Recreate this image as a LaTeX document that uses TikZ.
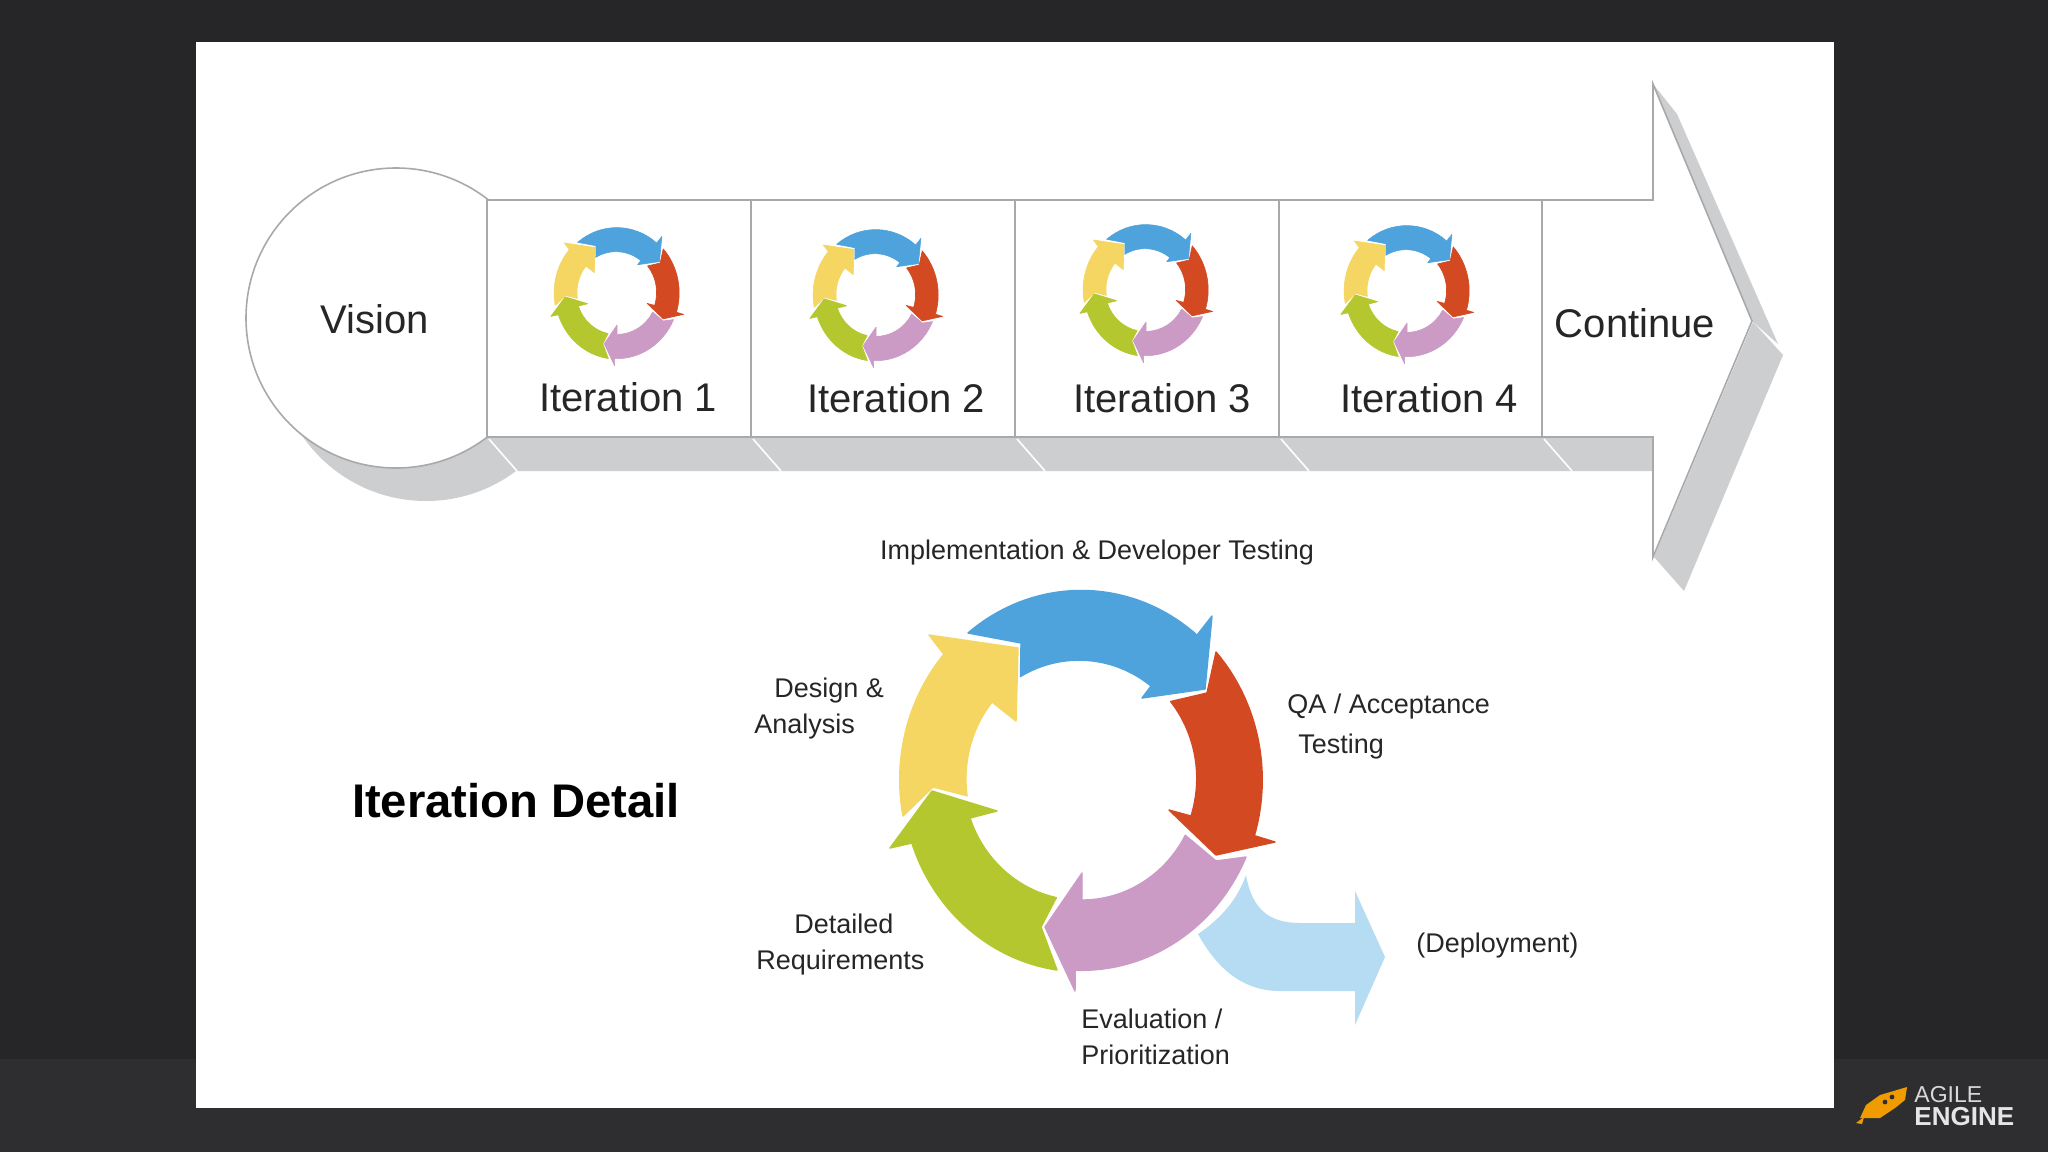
\documentclass[tikz,border=0pt]{standalone}
\usepackage{fontspec}
\setmainfont{Liberation Sans}
\usepackage{xcolor}
\usepackage{tikz}
\usetikzlibrary{positioning}
\definecolor{slide}{HTML}{262628}
\definecolor{band}{HTML}{2E2E30}
\definecolor{edge}{HTML}{A9A9AB}
\definecolor{dropgray}{HTML}{CDCED0}
\definecolor{planblue}{HTML}{4FA3DC}
\definecolor{planred}{HTML}{D34A22}
\definecolor{planpurple}{HTML}{CB9AC5}
\definecolor{plangreen}{HTML}{B5C72F}
\definecolor{planyellow}{HTML}{F5D663}
\definecolor{planlight}{HTML}{B5DCF3}
\definecolor{rocket}{HTML}{F09C00}
\newcommand{\cyclearrows}{%
  \fill[seg, planblue] (968,633) arc[start angle=129, end angle=50, outer] -- (1212,616) -- (1205,689) -- (1142,698) -- (1151,686) arc[start angle=52, end angle=120, inner] -- (1021,643) -- cycle;
  \fill[seg, planred] (1216,652) arc[start angle=42, end angle=-17, outer] -- (1275,842) -- (1216,855) -- (1169,810) -- (1191,816) arc[start angle=-18, end angle=39, inner] -- (1207,693) -- cycle;
  \fill[seg, planpurple] (1246,857) arc[start angle=-24, end angle=-92, outer] -- (1075,991) -- (1045,927) -- (1082,873) -- (1082,900) arc[start angle=-90, end angle=-28, inner] -- (1216,861) -- cycle;
  \fill[seg, plangreen] (1057,970) arc[start angle=262, end angle=199, outer] -- (890,848) -- (932,791) -- (997,811) -- (970,818) arc[start angle=199, end angle=258, inner] -- (1041,927) -- cycle;
  \fill[seg, planyellow] (903,816) arc[start angle=191, end angle=139, outer] -- (929,635) -- (1018,648) -- (1016,721) -- (992,702) arc[start angle=141, end angle=188, inner] -- (933,787) -- cycle;
}
\begin{document}
\begin{tikzpicture}[x=0.5pt, y=-0.5pt,
  label/.style={font=\fontsize{13.5}{18}\selectfont, align=left, anchor=west, inner sep=0pt, text=black!85},
  big/.style={font=\fontsize{20}{24}\selectfont, inner sep=0pt, text=black!85},
  outline/.style={draw=edge, line width=0.8pt},
  seg/.style={draw=white, line width=0.7pt, line join=round},
  outer/.style={x radius=90pt, y radius=95.5pt},
  inner/.style={x radius=58.5pt, y radius=61pt},
  cut/.style={draw=white, line width=0.8pt}]
  \useasboundingbox (0,0) rectangle (2048,1152);
  \fill[slide] (0,0) rectangle (2048,1152);
  \fill[band] (0,1059) rectangle (2048,1152);
  \fill[white] (196,42) rectangle (1834,1108);

  % timeline arrow
  \fill[dropgray] (426,351) circle[radius=75pt];
  \fill[dropgray] (487,438) -- (1653,438) -- (1653,471) -- (517,471) -- cycle;
  \fill[dropgray] (1653,84) -- (1677,114) -- (1778,344) -- (1752,321) -- cycle;
  \fill[dropgray] (1753,322) -- (1783,355) -- (1684,591) -- (1654,557) -- cycle;
  \draw[outline, fill=white] (396,318) circle[radius=75pt];
  \draw[outline, fill=white] (487,200) -- (1653,200) -- (1653,84) -- (1752,321) -- (1653,557) -- (1653,437) -- (487,437) -- cycle;
  \foreach \x in {751,1015,1279,1542}{ \draw[outline] (\x,200) -- (\x,437); }
  \foreach \x in {487,751,1015,1279,1542}{ \draw[cut] (\x+2,439) -- (\x+30,471); }
  \node[big] (vision) at (375,319) {Vision};
  \node[big] (continue) at (1635,323) {Continue};
  \foreach \i/\x/\y/\ix/\iy in {1/628/397/617/293, 2/896/398/876/295, 3/1162/398/1146/290, 4/1429/398/1407/291}{
    \node[big] (iter\i) at (\x,\y) {Iteration \i};
    \begin{scope}[shift={(\ix,\iy)}, scale=0.345, shift={(-1082,-780)}, seg/.append style={line width=0.3pt}]
      \cyclearrows
    \end{scope}
  }

  % iteration detail
  \fill[planlight] (1246,875) .. controls (1252,910) and (1270,923) .. (1300,923) -- (1355,923) -- (1355,891) -- (1385,957) -- (1355,1025) -- (1355,991) -- (1280,991) .. controls (1240,991) and (1215,965) .. (1198,934) .. controls (1222,918) and (1238,898) .. cycle;
  \cyclearrows
  \node[font=\fontsize{23.6}{26}\selectfont\bfseries, inner sep=0pt] (detail) at (516,801) {Iteration Detail};
  \node[label, anchor=center] (impl) at (1097,553) {Implementation \& Developer Testing};
  \node[label] (design) at (754,709) {\hspace*{10pt}Design \&\\Analysis};
  \node[label] (qa) at (1287,727) {QA / Acceptance\\[2pt]\hspace*{5.5pt}Testing};
  \node[label] (reqs) at (756,944) {\hspace*{19pt}Detailed\\Requirements};
  \node[label] (eval) at (1081,1037) {Evaluation /\\Prioritization};
  \node[label] (deploy) at (1416,945) {(Deployment)};

  % logo
  \fill[rocket] (1907,1087) -- (1880,1095) -- (1866,1105) -- (1860,1118) -- (1880,1118) -- (1895,1108) -- (1905,1100) -- cycle;
  \fill[rocket] (1856,1123) -- (1864,1117) -- (1862,1124) -- cycle;
  \fill[band] (1892,1097) circle[radius=1.2pt] (1885,1102) circle[radius=1.2pt];
  \node[anchor=west, inner sep=0pt, text=white!85!black, font=\fontsize{11.5}{13}\selectfont] (agile) at (1914,1095) {AGILE};
  \node[anchor=west, inner sep=0pt, text=white!90!black, font=\fontsize{13}{13}\selectfont\bfseries] (engine) at (1914,1117) {ENGINE};
\end{tikzpicture}
\end{document}
